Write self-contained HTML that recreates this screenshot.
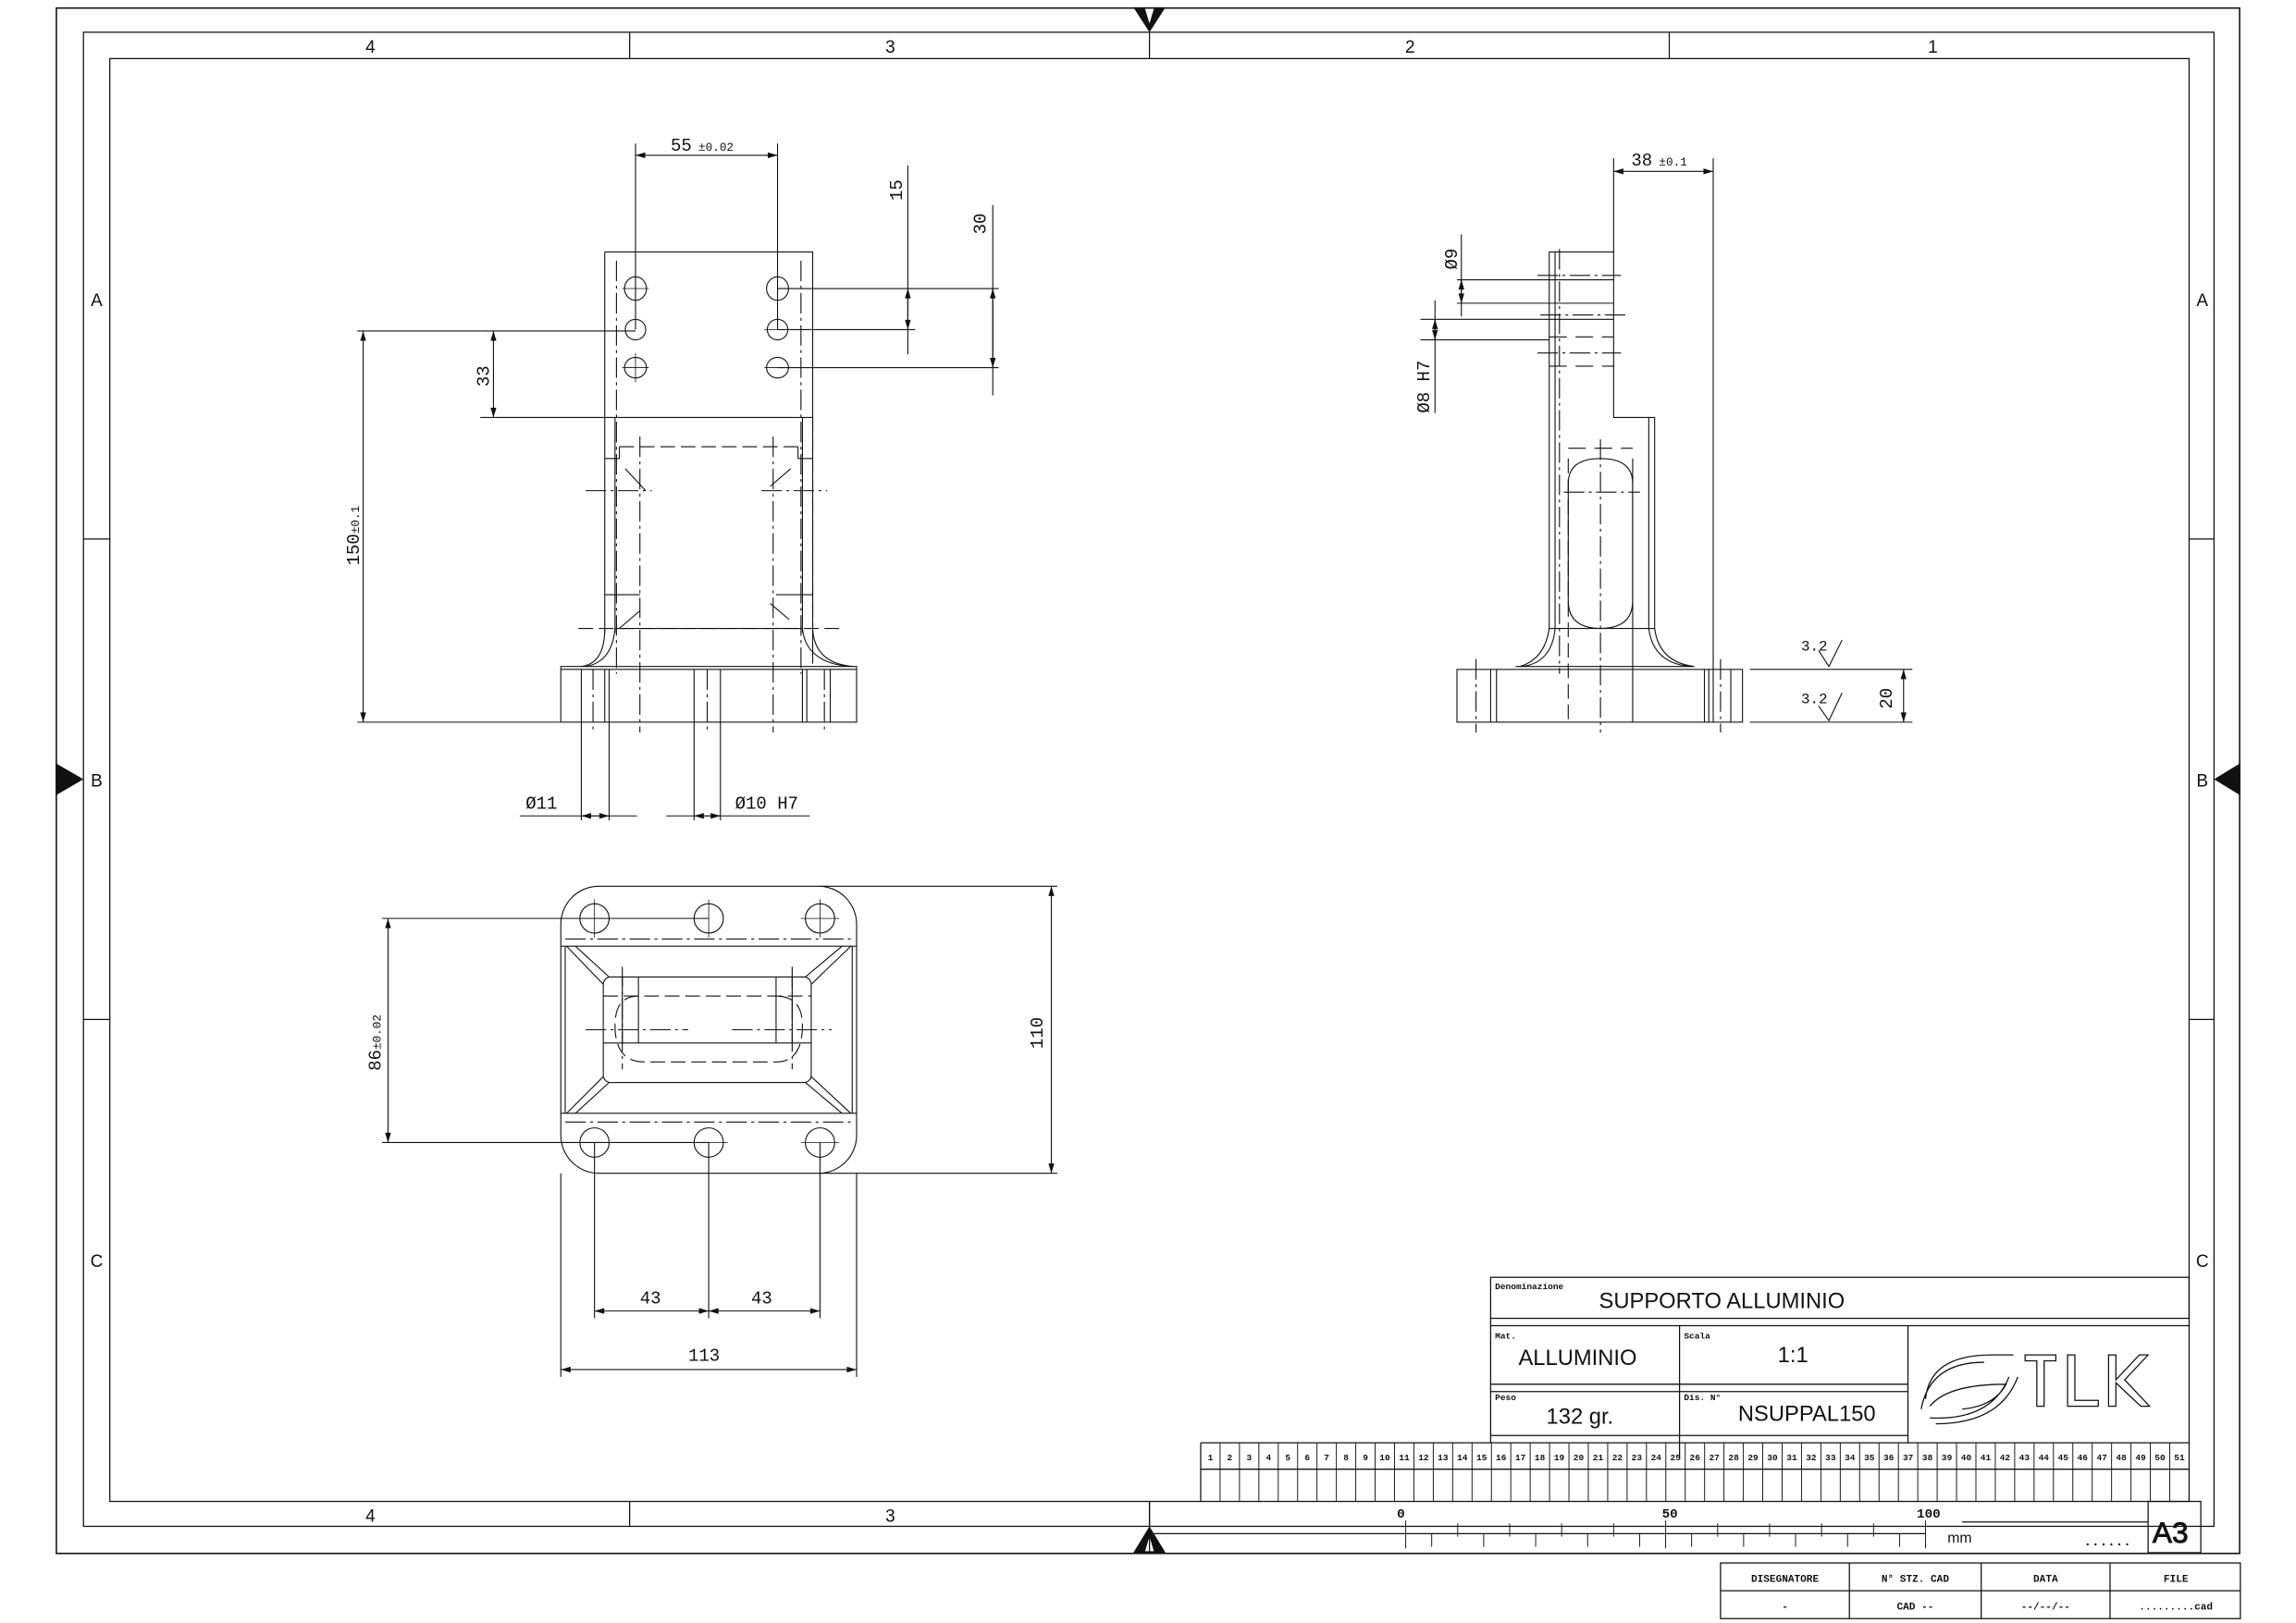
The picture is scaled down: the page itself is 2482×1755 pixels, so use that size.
<!DOCTYPE html>
<html><head><meta charset="utf-8"><style>
html,body{margin:0;padding:0;background:#fff;}
svg{display:block;}
text{font-family:"Liberation Mono","DejaVu Sans Mono",monospace;fill:#111;}
.s{font-family:"Liberation Sans Narrow","Liberation Sans",sans-serif;}
</style></head><body>
<svg width="2482" height="1755" viewBox="0 0 1568 1108" preserveAspectRatio="none" xmlns="http://www.w3.org/2000/svg">
<defs>
<marker id="a" viewBox="0 0 10 6" refX="10" refY="3" markerWidth="7" markerHeight="4" orient="auto-start-reverse" markerUnits="userSpaceOnUse"><path d="M0,0 L10,3 L0,6z" fill="#111"/></marker>
</defs>
<g fill="none" stroke="#111" stroke-width="0.8">
<!-- frames -->
<rect x="38.5" y="5.5" width="1491" height="1055" stroke-width="1"/>
<rect x="57" y="22" width="1455" height="1020"/>
<rect x="75" y="40" width="1420" height="985"/>
<line x1="430" y1="22" x2="430" y2="40"/><line x1="785" y1="22" x2="785" y2="40"/><line x1="1140" y1="22" x2="1140" y2="40"/>
<line x1="430" y1="1025" x2="430" y2="1042"/><line x1="785" y1="1025" x2="785" y2="1042"/>
<line x1="57" y1="368" x2="75" y2="368"/><line x1="57" y1="696" x2="75" y2="696"/>
<line x1="1495" y1="368" x2="1512" y2="368"/><line x1="1495" y1="696" x2="1512" y2="696"/>
</g>
<g fill="#111">
<path d="M774,5 L796,5 L785,22z"/><path d="M774,1060 L796,1060 L785,1042z"/>
<path d="M38,521 L38,543 L57,532z"/><path d="M1530,521 L1530,543 L1512,532z"/>
</g>
<g fill="#fff"><path d="M782,6 L788,6 L785,16z"/><path d="M782,1059 L788,1059 L785,1049z"/></g>
<g font-size="12" text-anchor="middle" class="s">
<text x="253" y="36" class="s">4</text><text x="608" y="36" class="s">3</text><text x="963" y="36" class="s">2</text><text x="1320" y="36" class="s">1</text>
<text x="253" y="1039" class="s">4</text><text x="608" y="1039" class="s">3</text>
<text x="66" y="209" class="s">A</text><text x="66" y="537" class="s">B</text><text x="66" y="865" class="s">C</text>
<text x="1504" y="209" class="s">A</text><text x="1504" y="537" class="s">B</text><text x="1504" y="865" class="s">C</text>
</g>

<!-- FRONT VIEW -->
<g fill="none" stroke="#111" stroke-width="0.7">
<path d="M413,172 L555,172 L555,453"/><path d="M413,172 L413,432"/>
<line x1="413" y1="285" x2="555" y2="285"/>
<path d="M548,285 L548,432"/>
<path d="M420,285 L420,432"/>
<path d="M413,313 L423,313 L423,305"/><path d="M555,313 L545,313 L545,305"/>
<path d="M427,320 L441,335"/><path d="M540,320 L526,332"/>
<line x1="413" y1="406" x2="437" y2="406"/><line x1="530" y1="406" x2="555" y2="406"/>
<path d="M423,429 L437,417"/><path d="M526,412 L539,423"/>
<line x1="420" y1="429" x2="548" y2="429"/>
<path d="M413,429 Q413,453 397,455"/><path d="M420,429 Q418,452 400,455"/>
<path d="M555,429 Q556,453 583,455"/><path d="M548,429 Q550,452 580,455"/>
<rect x="383" y="455" width="202" height="38"/>
<line x1="383" y1="457" x2="585" y2="457"/>
<line x1="413" y1="457" x2="413" y2="493"/><line x1="416" y1="457" x2="416" y2="493"/>
<line x1="397" y1="457" x2="397" y2="560"/><line x1="416" y1="493" x2="416" y2="560"/>
<line x1="474" y1="457" x2="474" y2="560"/><line x1="492" y1="457" x2="492" y2="560"/>
<line x1="548" y1="457" x2="548" y2="493"/><line x1="551" y1="457" x2="551" y2="493"/>
<line x1="567" y1="457" x2="567" y2="493"/>
<g stroke-dasharray="14,3,2,3">
<line x1="421" y1="178" x2="421" y2="460"/><line x1="547" y1="178" x2="547" y2="460"/>
<line x1="437" y1="298" x2="437" y2="500"/><line x1="528" y1="298" x2="528" y2="500"/>
<line x1="405" y1="457" x2="405" y2="500"/><line x1="483" y1="457" x2="483" y2="500"/>
<line x1="563" y1="457" x2="563" y2="500"/>
<line x1="400" y1="335" x2="445" y2="335"/><line x1="520" y1="335" x2="565" y2="335"/>
</g>
<g stroke-dasharray="10,4">
<line x1="423" y1="305" x2="545" y2="305"/>
<line x1="395" y1="429" x2="575" y2="429"/>
<line x1="555" y1="285" x2="555" y2="429"/>
</g>
<g>
<ellipse cx="434" cy="197" rx="7.5" ry="8"/><ellipse cx="434" cy="225" rx="7" ry="7"/><ellipse cx="434" cy="251" rx="7.5" ry="7"/>
<ellipse cx="531" cy="197" rx="7.5" ry="8"/><ellipse cx="531" cy="225" rx="7" ry="7"/><ellipse cx="531" cy="251" rx="7.5" ry="7"/>
</g>
<g stroke-width="0.5">
<line x1="425" y1="197" x2="443" y2="197"/><line x1="425" y1="251" x2="443" y2="251"/><line x1="434" y1="241" x2="434" y2="261"/>
<line x1="522" y1="225" x2="540" y2="225"/><line x1="522" y1="251" x2="540" y2="251"/>
</g>
<!-- dims -->
<line x1="434" y1="98" x2="434" y2="225"/><line x1="531" y1="98" x2="531" y2="225"/>
<line x1="434" y1="106" x2="531" y2="106" marker-start="url(#a)" marker-end="url(#a)"/>
<line x1="531" y1="197" x2="682" y2="197"/><line x1="531" y1="225" x2="625" y2="225"/><line x1="531" y1="251" x2="682" y2="251"/>
<line x1="620" y1="113" x2="620" y2="242"/>
<line x1="620" y1="197" x2="620" y2="225" marker-start="url(#a)" marker-end="url(#a)"/>
<line x1="678" y1="140" x2="678" y2="270"/>
<line x1="678" y1="197" x2="678" y2="251" marker-start="url(#a)" marker-end="url(#a)"/>
<line x1="328" y1="226" x2="434" y2="226"/><line x1="328" y1="285" x2="413" y2="285"/>
<line x1="337" y1="226" x2="337" y2="285" marker-start="url(#a)" marker-end="url(#a)"/>
<line x1="244" y1="226" x2="328" y2="226"/><line x1="244" y1="493" x2="383" y2="493"/>
<line x1="248" y1="226" x2="248" y2="493" marker-start="url(#a)" marker-end="url(#a)"/>
<line x1="355" y1="557" x2="435" y2="557"/><line x1="397" y1="557" x2="416" y2="557" marker-start="url(#a)" marker-end="url(#a)"/>
<line x1="455" y1="557" x2="553" y2="557"/><line x1="474" y1="557" x2="492" y2="557" marker-start="url(#a)" marker-end="url(#a)"/>
</g>
<text x="458" y="103" font-size="12">55</text><text x="477" y="103" font-size="8">±0.02</text>
<text x="616" y="137" font-size="12" transform="rotate(-90 616 137)">15</text>
<text x="673" y="160" font-size="12" transform="rotate(-90 673 160)">30</text>
<text x="334" y="264" font-size="12" transform="rotate(-90 334 264)">33</text>
<text x="245" y="386" font-size="12" transform="rotate(-90 245 386)">150<tspan font-size="8">±0.1</tspan></text>
<text x="359" y="552" font-size="12">Ø11</text>
<text x="502" y="552" font-size="12">Ø10 H7</text>

<!-- SIDE VIEW -->
<g fill="none" stroke="#111" stroke-width="0.7">
<path d="M1058,172 L1102,172 L1102,285 L1130,285 L1130,429"/>
<path d="M1058,172 L1058,429"/>
<line x1="1062" y1="172" x2="1062" y2="429"/>
<line x1="1126" y1="285" x2="1126" y2="429"/>
<line x1="1058" y1="429" x2="1130" y2="429"/>
<path d="M1058,429 Q1055,450 1038,455"/><path d="M1062,429 Q1060,452 1040,455"/>
<path d="M1130,429 Q1133,452 1157,455"/><path d="M1126,429 Q1129,453 1155,455"/>
<rect x="995" y="457" width="195" height="36"/>
<line x1="1035" y1="455" x2="1157" y2="455"/>
<line x1="1018" y1="457" x2="1018" y2="493"/><line x1="1022" y1="457" x2="1022" y2="493"/>
<line x1="1164" y1="457" x2="1164" y2="493"/><line x1="1167" y1="457" x2="1167" y2="493"/>
<line x1="1182" y1="457" x2="1182" y2="493"/>
<path d="M1071,330 Q1071,313 1093,313 Q1115,313 1115,330 L1115,410 Q1115,429 1093,429 Q1071,429 1071,410 Z"/>
<line x1="1071" y1="313" x2="1071" y2="493" stroke-dasharray="10,4"/>
<line x1="1115" y1="313" x2="1115" y2="493"/>
<g stroke-dasharray="14,3,2,3">
<line x1="1065" y1="170" x2="1065" y2="460"/>
<line x1="1093" y1="300" x2="1093" y2="500"/>
<line x1="1008" y1="450" x2="1008" y2="500"/><line x1="1175" y1="450" x2="1175" y2="500"/>
<line x1="1050" y1="188" x2="1107" y2="188"/><line x1="1052" y1="215" x2="1110" y2="215"/><line x1="1050" y1="241" x2="1107" y2="241"/>
<line x1="1068" y1="336" x2="1120" y2="336"/>
</g>
<g stroke-dasharray="12,6">
<line x1="1058" y1="230" x2="1102" y2="230"/><line x1="1058" y1="250" x2="1102" y2="250"/><line x1="1071" y1="306" x2="1115" y2="306"/>
</g>
<line x1="995" y1="191" x2="1102" y2="191"/><line x1="995" y1="207" x2="1102" y2="207"/>
<line x1="970" y1="218" x2="1102" y2="218"/><line x1="970" y1="232" x2="1058" y2="232"/>
<line x1="998" y1="160" x2="998" y2="216"/><line x1="998" y1="191" x2="998" y2="207" marker-start="url(#a)" marker-end="url(#a)"/>
<line x1="980" y1="205" x2="980" y2="282"/><line x1="980" y1="218" x2="980" y2="232" marker-start="url(#a)" marker-end="url(#a)"/>
<line x1="1102" y1="108" x2="1102" y2="172"/><line x1="1170" y1="108" x2="1170" y2="493"/>
<line x1="1102" y1="117" x2="1170" y2="117" marker-start="url(#a)" marker-end="url(#a)"/>
<line x1="1195" y1="457" x2="1306" y2="457"/><line x1="1195" y1="493" x2="1306" y2="493"/>
<line x1="1300" y1="457" x2="1300" y2="493" marker-start="url(#a)" marker-end="url(#a)"/>
<path d="M1242,444 L1249,455 L1258,437"/><path d="M1242,482 L1249,492 L1258,473"/>
</g>
<text x="1114" y="113" font-size="12">38</text><text x="1133" y="113" font-size="8">±0.1</text>
<text x="995" y="184" font-size="12" transform="rotate(-90 995 184)">Ø9</text>
<text x="976" y="282" font-size="12" transform="rotate(-90 976 282)">Ø8 H7</text>
<text x="1230" y="444" font-size="10">3.2</text><text x="1230" y="480" font-size="10">3.2</text>
<text x="1292" y="484" font-size="12" transform="rotate(-90 1292 484)">20</text>

<!-- TOP VIEW -->
<g fill="none" stroke="#111" stroke-width="0.7">
<rect x="383" y="605" width="202" height="196" rx="26"/>
<line x1="383" y1="646" x2="585" y2="646"/><line x1="383" y1="760" x2="585" y2="760"/>
<line x1="386" y1="646" x2="386" y2="760"/><line x1="582" y1="646" x2="582" y2="760"/>
<rect x="412" y="667" width="142" height="72" rx="5"/>
<line x1="412" y1="712" x2="554" y2="712"/>
<path d="M387,646 L412,672"/><path d="M393,646 L416,667"/>
<path d="M581,646 L554,672"/><path d="M575,646 L550,667"/>
<path d="M387,760 L412,735"/><path d="M393,760 L416,739"/>
<path d="M581,760 L554,735"/><path d="M575,760 L550,739"/>
<line x1="425" y1="667" x2="425" y2="712"/><line x1="436" y1="667" x2="436" y2="712"/>
<line x1="530" y1="667" x2="530" y2="712"/><line x1="541" y1="667" x2="541" y2="712"/>
<g stroke-dasharray="10,4">
<path d="M436,680 Q420,680 420,700 Q420,725 440,725 L530,725 Q548,725 548,700 Q548,680 530,680"/>
<line x1="412" y1="680" x2="554" y2="680"/>
</g>
<g stroke-dasharray="14,3,2,3">
<line x1="386" y1="641" x2="582" y2="641"/><line x1="386" y1="766" x2="582" y2="766"/>
<line x1="425" y1="660" x2="425" y2="730"/><line x1="541" y1="660" x2="541" y2="730"/>
<line x1="400" y1="703" x2="470" y2="703"/><line x1="500" y1="703" x2="568" y2="703"/>
</g>
<circle cx="406" cy="627" r="10"/><circle cx="484" cy="627" r="10"/><circle cx="560" cy="627" r="10"/>
<circle cx="406" cy="780" r="10"/><circle cx="484" cy="780" r="10"/><circle cx="560" cy="780" r="10"/>
<g stroke-width="0.5">
<line x1="406" y1="614" x2="406" y2="640"/><line x1="484" y1="614" x2="484" y2="640"/><line x1="560" y1="614" x2="560" y2="640"/>
<line x1="547" y1="627" x2="573" y2="627"/><line x1="547" y1="780" x2="573" y2="780"/><line x1="484" y1="780" x2="497" y2="780"/>
</g>
<line x1="261" y1="627" x2="484" y2="627"/><line x1="261" y1="780" x2="484" y2="780"/>
<line x1="265" y1="627" x2="265" y2="780" marker-start="url(#a)" marker-end="url(#a)"/>
<line x1="560" y1="605" x2="722" y2="605"/><line x1="560" y1="801" x2="722" y2="801"/>
<line x1="718" y1="605" x2="718" y2="801" marker-start="url(#a)" marker-end="url(#a)"/>
<line x1="406" y1="780" x2="406" y2="900"/><line x1="484" y1="780" x2="484" y2="900"/><line x1="560" y1="780" x2="560" y2="900"/>
<line x1="406" y1="895" x2="484" y2="895" marker-start="url(#a)" marker-end="url(#a)"/>
<line x1="484" y1="895" x2="560" y2="895" marker-start="url(#a)" marker-end="url(#a)"/>
<line x1="383" y1="801" x2="383" y2="940"/><line x1="585" y1="801" x2="585" y2="940"/>
<line x1="383" y1="935" x2="585" y2="935" marker-start="url(#a)" marker-end="url(#a)"/>
</g>
<text x="260" y="731" font-size="12" transform="rotate(-90 260 731)">86<tspan font-size="8">±0.02</tspan></text>
<text x="712" y="716" font-size="12" transform="rotate(-90 712 716)">110</text>
<text x="437" y="890" font-size="12">43</text><text x="513" y="890" font-size="12">43</text>
<text x="470" y="929" font-size="12">113</text>

<!-- TITLE BLOCK -->
<g fill="none" stroke="#111" stroke-width="0.8">
<rect x="1018" y="872" width="477" height="28"/>
<line x1="1018" y1="905" x2="1495" y2="905"/>
<line x1="1018" y1="900" x2="1018" y2="985"/>
<line x1="1147" y1="905" x2="1147" y2="995"/><line x1="1303" y1="905" x2="1303" y2="985"/>
<line x1="1018" y1="945" x2="1303" y2="945"/><line x1="1018" y1="950" x2="1303" y2="950"/>
<line x1="1018" y1="980" x2="1303" y2="980"/>
<line x1="820" y1="985" x2="1495" y2="985"/><line x1="820" y1="1003" x2="1495" y2="1003"/>
<line x1="820" y1="985" x2="820" y2="1025"/>
<line x1="785" y1="1060" x2="785" y2="1025"/>
<rect x="1467" y="1025" width="36" height="35"/>
<line x1="785" y1="1047" x2="1315" y2="1047"/>
<line x1="1340" y1="1039" x2="1467" y2="1039"/>
<rect x="1175" y="1067" width="355" height="38"/>
<line x1="1175" y1="1086" x2="1530" y2="1086"/>
<line x1="1263" y1="1067" x2="1263" y2="1105"/><line x1="1353" y1="1067" x2="1353" y2="1105"/><line x1="1441" y1="1067" x2="1441" y2="1105"/>
<!-- logo -->
<path d="M1315,955 Q1318,925 1360,925 L1375,925 M1312,962 Q1318,930 1355,930 M1318,960 Q1330,945 1370,945 Q1362,960 1340,962 M1318,968 Q1360,970 1372,940 M1322,972 Q1366,972 1378,940"/>
<path d="M1383,925 L1404,925 L1404,929 L1396,929 L1396,960 L1391,960 L1391,929 L1383,929 Z"/>
<path d="M1412,925 L1417,925 L1417,956 L1433,956 L1433,960 L1412,960 Z"/>
<path d="M1440,925 L1445,925 L1445,942 L1461,925 L1467,925 L1451,942 L1468,960 L1462,960 L1445,944 L1445,960 L1440,960 Z"/>
</g>
<g stroke="#111" stroke-width="0.6" id="cells"></g>
<text x="1021" y="880" font-size="6" font-weight="bold">Denominazione</text>
<text x="1092" y="893" font-size="15" class="s">SUPPORTO ALLUMINIO</text>
<text x="1021" y="914" font-size="6" font-weight="bold">Mat.</text>
<text x="1037" y="932" font-size="15" class="s">ALLUMINIO</text>
<text x="1150" y="914" font-size="6" font-weight="bold">Scala</text>
<text x="1214" y="930" font-size="15" class="s">1:1</text>
<text x="1021" y="956" font-size="6" font-weight="bold">Peso</text>
<text x="1056" y="972" font-size="15" class="s">132 gr.</text>
<text x="1150" y="956" font-size="6" font-weight="bold">Dis. N°</text>
<text x="1187" y="970" font-size="15" class="s">NSUPPAL150</text>
<text x="954" y="1036" font-size="9" font-weight="bold">0</text>
<text x="1135" y="1036" font-size="9" font-weight="bold">50</text>
<text x="1309" y="1036" font-size="9" font-weight="bold">100</text>
<text x="1330" y="1053" font-size="10" class="s">mm</text>
<text x="1423" y="1055" font-size="9" font-weight="bold">......</text>
<text x="1470" y="1053" font-size="20" class="s" fill="none" stroke="#111" stroke-width="0.6">A3</text>
<g font-size="7" font-weight="bold" text-anchor="middle">
<text x="1219" y="1080">DISEGNATORE</text><text x="1308" y="1080">N° STZ. CAD</text>
<text x="1397" y="1080">DATA</text><text x="1486" y="1080">FILE</text>
<text x="1219" y="1099">-</text><text x="1308" y="1099">CAD --</text>
<text x="1397" y="1099">--/--/--</text><text x="1486" y="1099">.........cad</text>
</g>
<g id="rul" font-size="6" font-weight="bold" text-anchor="middle"></g>
<g id="ticks" stroke="#111" stroke-width="0.6"></g>
<script>
(function(){var ns="http://www.w3.org/2000/svg";var c=document.getElementById("cells"),r=document.getElementById("rul"),t=document.getElementById("ticks");
var w=(1495-820)/51;
for(var i=0;i<51;i++){var x=820+i*w;
if(i>0){var l=document.createElementNS(ns,"line");l.setAttribute("x1",x);l.setAttribute("x2",x);l.setAttribute("y1",985);l.setAttribute("y2",1025);c.appendChild(l);}
var tx=document.createElementNS(ns,"text");tx.setAttribute("x",x+w/2);tx.setAttribute("y",997);tx.textContent=i+1;r.appendChild(tx);}
for(var j=0;j<=20;j++){var x2=960+j*17.75;var l2=document.createElementNS(ns,"line");l2.setAttribute("x1",x2);l2.setAttribute("x2",x2);
var lg=(j%10==0);l2.setAttribute("y1",lg?1038:(j%2?1047:1040));l2.setAttribute("y2",lg?1057:(j%2?1056:1049));t.appendChild(l2);}
})();
</script>
</svg>
</body></html>
